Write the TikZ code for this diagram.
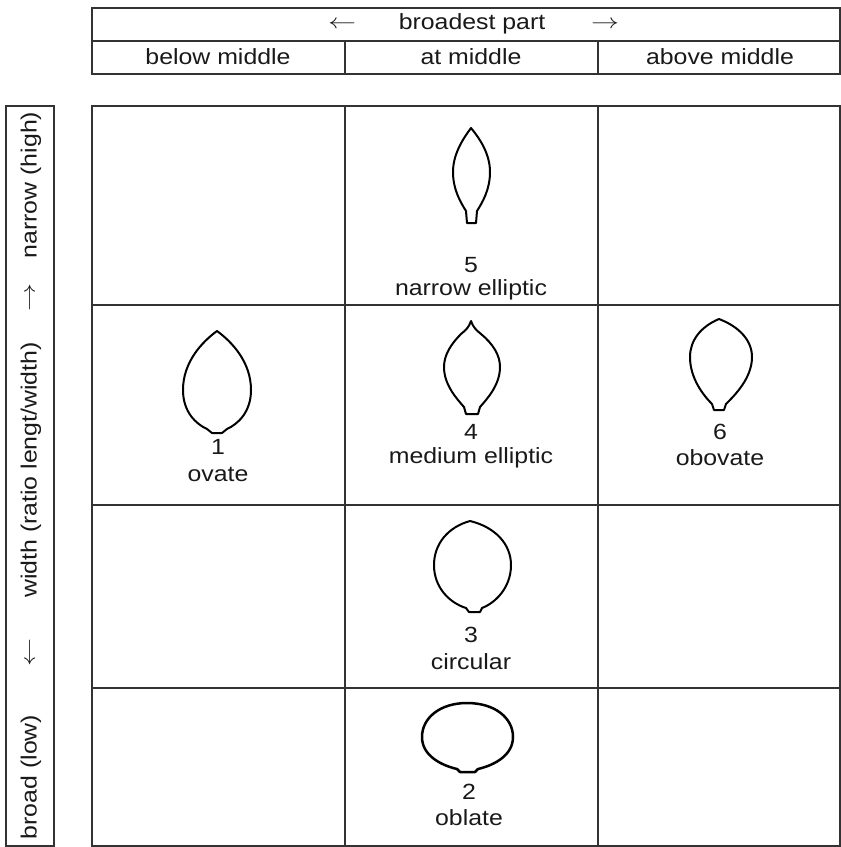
\documentclass[tikz,border=0pt]{standalone}
\usepackage{fontspec}
\usepackage{graphicx}
\setmainfont[FakeStretch=1.13]{Liberation Sans}
\newcommand{\lar}{\scalebox{1.35}[1]{$\leftarrow$}}
\newcommand{\rar}{\scalebox{1.35}[1]{$\rightarrow$}}
\begin{document}
\begin{tikzpicture}[x=1pt,y=-1pt,
  grid/.style={draw=black!80,line width=1.1pt},
  lbl/.style={font=\fontsize{22}{25}\selectfont,text=black!90,inner sep=0pt,anchor=center},
  leaf/.style={draw=black,line width=2pt,line join=round}]
\useasboundingbox (0,0) rectangle (841,847);
% header table
\draw[grid] (92,8) rectangle (840,74);
\draw[grid] (92,41) -- (840,41);
\draw[grid] (345,41) -- (345,74);
\draw[grid] (598,41) -- (598,74);
\node[lbl] (bp) at (472,24) {broadest part};
\node[lbl] (la) at (342,25) {\lar};
\node[lbl] (ra) at (605,25) {\rar};
\node[lbl] (bm) at (218,57) {below middle};
\node[lbl] (am) at (471,57) {at middle};
\node[lbl] (abm) at (720,57) {above middle};
% main grid
\draw[grid] (92,106) rectangle (840,846);
\foreach \yy in {305,505,688} \draw[grid] (92,\yy) -- (840,\yy);
\draw[grid] (345,106) -- (345,846);
\draw[grid] (598,106) -- (598,846);
% left label box
\draw[grid] (6,106) rectangle (54,846);
\node[lbl,rotate=90] (nh) at (31,185) {narrow (high)};
\node[lbl,rotate=90] (ua) at (31,297) {\rar};
\node[lbl,rotate=90] (wr) at (31,470) {width (ratio lengt/width)};
\node[lbl,rotate=90] (da) at (31,652) {\lar};
\node[lbl,rotate=90] (bl) at (31,777) {broad (low)};
% leaf 5 narrow elliptic
\draw[leaf] (471,128) .. controls (481,140) and (490,155) .. (490,172)
  .. controls (490,190) and (482,203) .. (477,211) -- (476,223) -- (467,223) -- (466,211)
  .. controls (461,203) and (453,190) .. (453,172)
  .. controls (453,155) and (462,140) .. cycle;
\node[lbl] (n5) at (471,265) {5};
\node[lbl] (t5) at (471,290) {narrow elliptic};
% leaf 1 ovate
\draw[leaf] (217,331) .. controls (232,342) and (251,362) .. (251,390)
  .. controls (251,412) and (238,424) .. (227,429)
  .. controls (225,430) and (224,432) .. (222,433) -- (212,433)
  .. controls (210,432) and (209,430) .. (207,429)
  .. controls (196,424) and (183,412) .. (183,390)
  .. controls (183,362) and (202,342) .. cycle;
\node[lbl] (n1) at (218,447) {1};
\node[lbl] (t1) at (218,474) {ovate};
% leaf 4 medium elliptic
\draw[leaf] (471,321) .. controls (473,327) and (476,330) .. (481,334)
  .. controls (493,344) and (500,355) .. (500,367)
  .. controls (500,385) and (487,399) .. (480,407) -- (478,414) -- (466,414) -- (464,407)
  .. controls (457,399) and (444,385) .. (444,367)
  .. controls (444,355) and (451,344) .. (461,334)
  .. controls (466,330) and (469,327) .. cycle;
\node[lbl] (n4) at (471,432) {4};
\node[lbl] (t4) at (471,458) {medium elliptic};
% leaf 6 obovate
\draw[leaf] (719,319) .. controls (740,327) and (752,341) .. (752,357)
  .. controls (752,378) and (735,395) .. (726,404) -- (724,410) -- (714,410) -- (712,404)
  .. controls (703,395) and (690,378) .. (690,357)
  .. controls (690,341) and (700,327) .. cycle;
\node[lbl] (n6) at (720,432) {6};
\node[lbl] (t6) at (720,458) {obovate};
% leaf 3 circular
\draw[leaf] (470,521) .. controls (495,527) and (511,544) .. (511,565)
  .. controls (511,588) and (495,603) .. (482,608) -- (480,612) -- (469,612) -- (466,608)
  .. controls (450,603) and (434,588) .. (434,565)
  .. controls (434,544) and (448,527) .. cycle;
\node[lbl] (n3) at (471,635) {3};
\node[lbl] (t3) at (471,662) {circular};
% leaf 2 oblate
\draw[leaf,line width=2.5pt] (467,703) .. controls (495,703) and (513,718) .. (513,737)
  .. controls (513,755) and (495,765) .. (478,769) -- (475,772) -- (460,772) -- (457,769)
  .. controls (440,765) and (422,755) .. (422,737)
  .. controls (422,718) and (440,703) .. cycle;
\node[lbl] (n2) at (469,792) {2};
\node[lbl] (t2) at (469,818) {oblate};
\end{tikzpicture}
\end{document}
